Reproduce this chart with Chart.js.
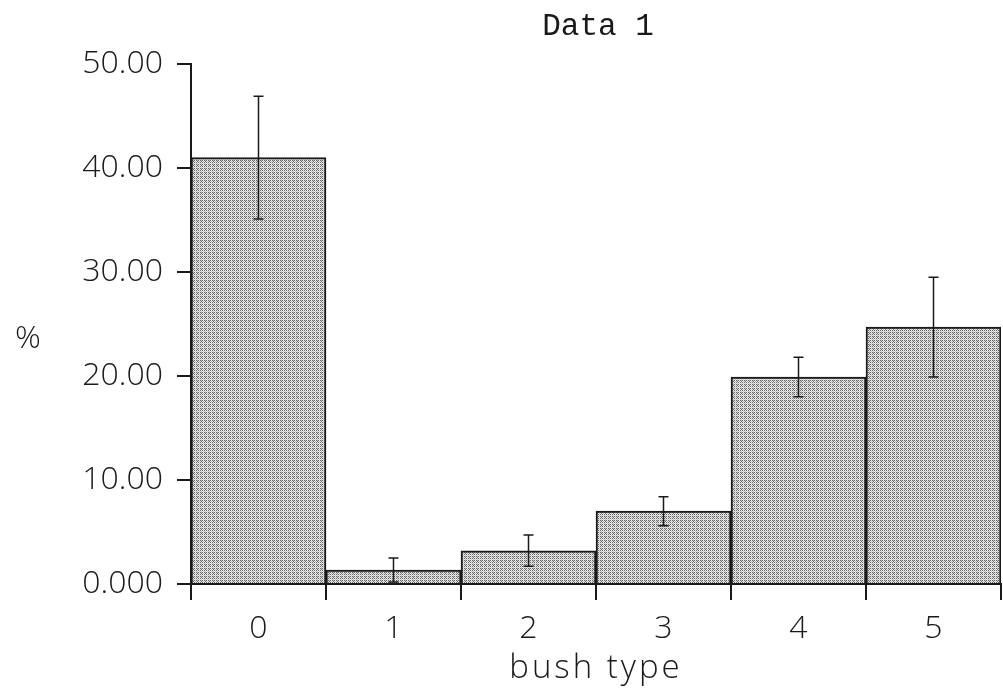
<!DOCTYPE html>
<html>
<head>
<meta charset="utf-8">
<title>Data 1</title>
<script src="https://cdn.jsdelivr.net/npm/chart.js@4/dist/chart.umd.min.js"></script>
<style>
  html, body { margin: 0; padding: 0; background: #fff; }
  #wrap { width: 1003px; height: 692px; }
</style>
</head>
<body>
<div id="wrap"><canvas id="bushChart"></canvas></div>
<script>
// ---- data ----
const bushTypes = ["0", "1", "2", "3", "4", "5"];
const percentValues = [41.0, 1.35, 3.2, 7.0, 19.9, 24.7];   // mean %
const percentErrors = [5.9, 1.15, 1.5, 1.4, 1.9, 4.8];      // +/- error
const yTickValues = [0, 10, 20, 30, 40, 50];

const tickFont = { family: '"Open Sans", "Liberation Sans", sans-serif', size: 32, weight: 300 };
const inkColor = "#1a1a1a";

// stippled grey fill for the bars: dark dots on light grey, ordered dither
function makeStipple() {
  const bayer = [
    0, 8, 2, 10,
    12, 4, 14, 6,
    3, 11, 1, 9,
    15, 7, 13, 5
  ];
  const c = document.createElement("canvas");
  c.width = 4; c.height = 4;
  const g = c.getContext("2d");
  const img = g.createImageData(4, 4);
  bayer.forEach((b, i) => {
    const v = b < 5 ? 0x66 : (b < 9 ? 0xc4 : 0xec);
    img.data[i * 4] = v;
    img.data[i * 4 + 1] = v;
    img.data[i * 4 + 2] = v;
    img.data[i * 4 + 3] = 255;
  });
  g.putImageData(img, 0, 0);
  return g.createPattern(c, "repeat");
}

// error bars drawn on top of the bars
const errorBarPlugin = {
  id: "errorBars",
  afterDatasetsDraw(chart) {
    const ctx = chart.ctx;
    const yScale = chart.scales.y;
    const bars = chart.getDatasetMeta(0).data;
    ctx.save();
    ctx.strokeStyle = inkColor;
    ctx.lineWidth = 1.5;
    bars.forEach((bar, i) => {
      const hi = yScale.getPixelForValue(percentValues[i] + percentErrors[i]);
      const lo = yScale.getPixelForValue(Math.max(0, percentValues[i] - percentErrors[i]));
      const x = bar.x;
      ctx.beginPath();
      ctx.moveTo(x, hi);
      ctx.lineTo(x, lo);
      ctx.moveTo(x - 5, hi);
      ctx.lineTo(x + 5, hi);
      ctx.moveTo(x - 5, lo);
      ctx.lineTo(x + 5, lo);
      ctx.stroke();
    });
    ctx.restore();
  }
};

// chart title, x title and the unrotated "%" label
const titlesPlugin = {
  id: "titles",
  afterDraw(chart) {
    const { ctx, chartArea } = chart;
    const midX = (chartArea.left + chartArea.right) / 2;
    ctx.save();
    ctx.fillStyle = inkColor;
    ctx.textAlign = "center";
    ctx.textBaseline = "alphabetic";
    ctx.font = '31px "Liberation Mono", monospace';
    ctx.fillText("Data 1", midX + 2, 35);
    ctx.font = '300 33px "Open Sans", "Liberation Sans", sans-serif';
    ctx.letterSpacing = "3px";
    ctx.fillText("bush type", midX, 678);
    ctx.letterSpacing = "0px";
    ctx.font = '300 32px "Open Sans", "Liberation Sans", sans-serif';
    ctx.fillText("%", 28, 348);
    ctx.restore();
  }
};

document.addEventListener("DOMContentLoaded", function () {
  new Chart(document.getElementById("bushChart"), {
    type: "bar",
    data: {
      labels: bushTypes,
      datasets: [{
        label: "%",
        data: percentValues,
        backgroundColor: makeStipple(),
        borderColor: inkColor,
        borderWidth: 2,
        categoryPercentage: 1.0,
        barPercentage: 1.0
      }]
    },
    options: {
      responsive: true,
      maintainAspectRatio: false,
      animation: false,
      layout: { padding: { top: 64, right: 2, left: 0, bottom: 0 } },
      plugins: {
        legend: { display: false },
        title: { display: false },
        tooltip: { enabled: false }
      },
      scales: {
        x: {
          grid: { drawOnChartArea: false, drawTicks: true, tickLength: 16, color: inkColor, lineWidth: 2, offset: true },
          border: { display: true, color: inkColor, width: 2 },
          ticks: { color: inkColor, font: tickFont, padding: 10, maxRotation: 0 },
          afterFit: s => { s.height = 108; }
        },
        y: {
          min: 0,
          max: 50,
          grid: { drawOnChartArea: false, drawTicks: true, tickLength: 14, color: inkColor, lineWidth: 2 },
          border: { display: true, color: inkColor, width: 2 },
          afterBuildTicks: s => { s.ticks = yTickValues.map(v => ({ value: v })); },
          ticks: {
            color: inkColor,
            font: tickFont,
            padding: 14,
            callback: v => (v === 0 ? "0.000" : Number(v).toFixed(2))
          },
          afterFit: s => { s.width = 191; }
        }
      }
    },
    plugins: [errorBarPlugin, titlesPlugin]
  });
});
</script>
</body>
</html>
